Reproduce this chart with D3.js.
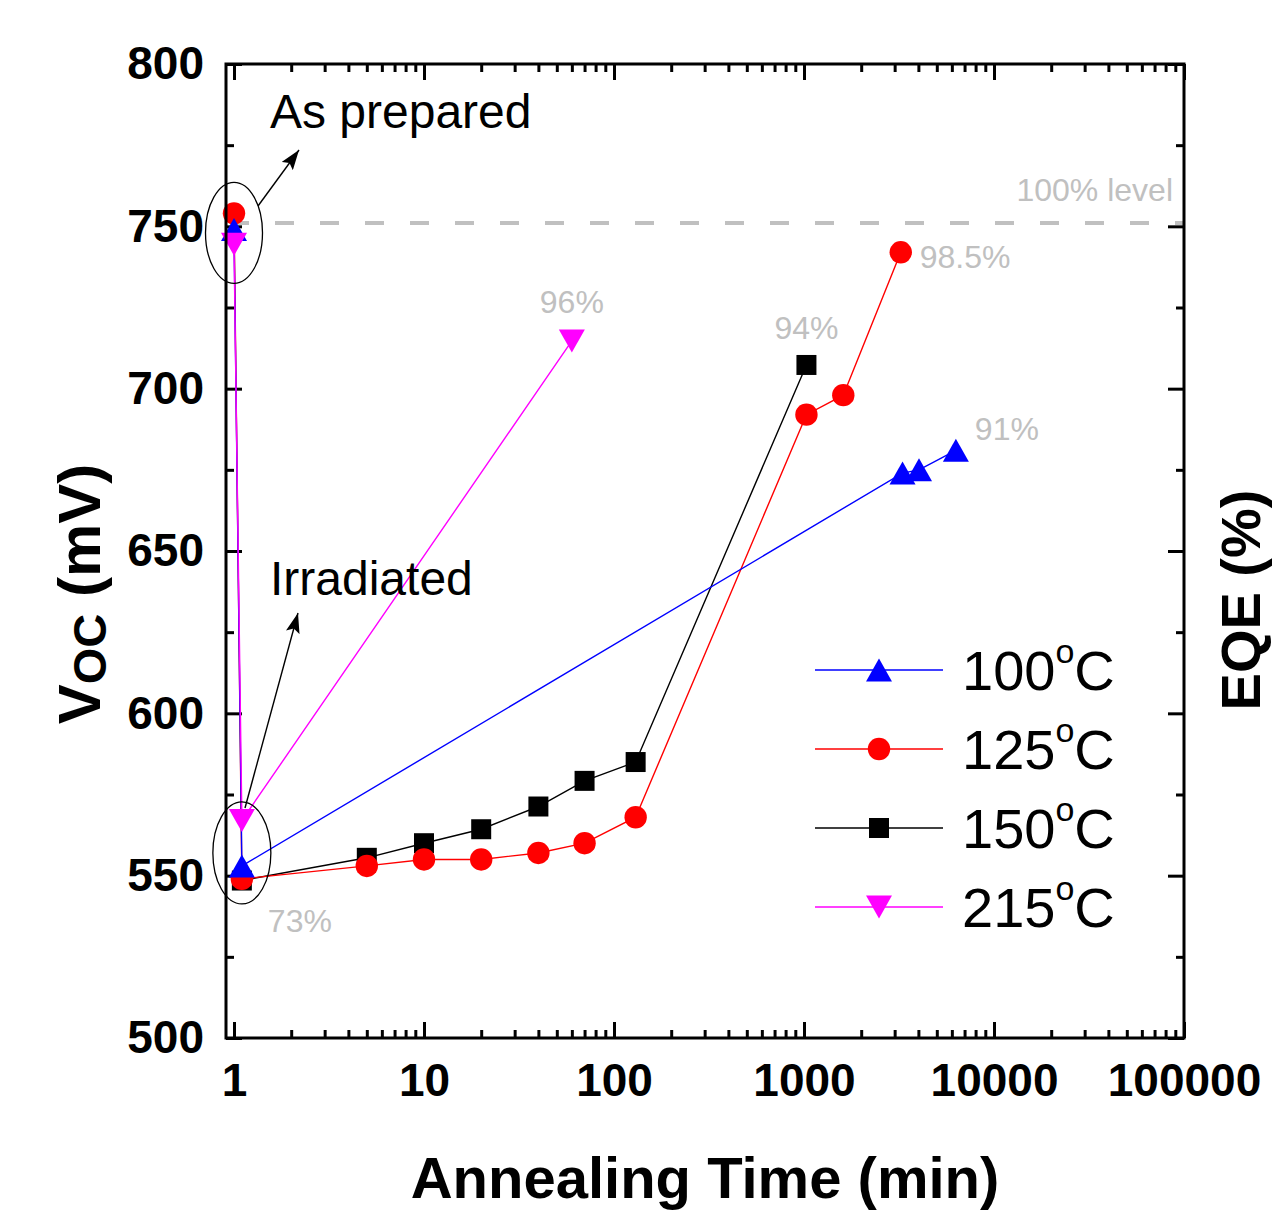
<!DOCTYPE html>
<html>
<head>
<meta charset="utf-8">
<script src="https://cdn.jsdelivr.net/npm/d3@7"></script>
<style>
  body { margin: 0; background: #fff; }
  svg { display: block; }
  text { font-family: "Liberation Sans", Arial, sans-serif; }
</style>
</head>
<body>
<svg id="chart" width="1273" height="1210"></svg>
<script>
// Open-circuit voltage recovery during annealing at four temperatures
const temps = [100, 125, 150, 215];

const time100 = [1, 1.1, 3300, 4030, 6300];
const voc100  = [749, 553, 674, 675, 681];

const time125 = [1, 1.1, 5, 10, 20, 40, 70, 130, 1030, 1610, 3230];
const voc125  = [754, 549, 553, 555, 555, 557, 560, 568, 692, 698, 742];

const time150 = [1.1, 5, 10, 20, 40, 70, 130, 1030];
const voc150  = [548.5, 555.5, 560, 564.3, 571.3, 579.2, 585, 707.3];

const time215 = [1, 1.1, 60];
const voc215  = [744.5, 567, 714.7];

// EQE notes, tied to data points
const eqeText = ["73%", "96%", "94%", "98.5%", "91%"];
const eqeTime = [1.1, 60, 1030, 3230, 6300];
const eqeVoc  = [549, 714.7, 707.3, 742, 681];

const levelVoc = 751;          // 100% level reference
const levelText = "100% level";

const xMajor = [1, 10, 100, 1000, 10000, 100000];
const yMajor = [500, 550, 600, 650, 700, 750, 800];
const yMinor = [525, 575, 625, 675, 725, 775];

const svg = d3.select("#chart");
const L = 226, R = 1184, T = 64, B = 1038;

const x = d3.scaleLog().domain([Math.pow(10, -8 / 190), 100000]).range([L, R]);
const y = d3.scaleLinear().domain([500, 800]).range([B, T]);

const xMinor = [];
for (let e = 0; e < 5; e++) for (let k = 2; k <= 9; k++) xMinor.push(k * Math.pow(10, e));

// ---- dashed 100% level ----
svg.append("line")
  .attr("x1", L + 4).attr("x2", R)
  .attr("y1", y(levelVoc)).attr("y2", y(levelVoc))
  .attr("stroke", "#c0c0c0").attr("stroke-width", 4)
  .attr("stroke-dasharray", "19,26");
svg.append("text")
  .attr("x", 1173).attr("y", y(levelVoc) - 22)
  .attr("text-anchor", "end").attr("font-size", 32).attr("fill", "#c0c0c0")
  .text(levelText);

// ---- axes ----
function styleAxis(g) {
  g.select(".domain").remove();
  g.selectAll(".tick line").attr("stroke", "#000").attr("stroke-width", 3);
  g.selectAll(".tick text").attr("fill", "#000").attr("font-weight", "bold")
    .attr("font-family", "'Liberation Sans', Arial, sans-serif");
}

svg.append("g").attr("transform", `translate(0,${B})`)
  .call(d3.axisBottom(x).tickValues(xMajor).tickSize(-16).tickPadding(25).tickFormat(d3.format("d")))
  .call(styleAxis)
  .call(g => g.selectAll(".tick text").attr("font-size", 46));
svg.append("g").attr("transform", `translate(0,${B})`)
  .call(d3.axisBottom(x).tickValues(xMinor).tickSize(-8).tickFormat(""))
  .call(styleAxis);
svg.append("g").attr("transform", `translate(0,${T})`)
  .call(d3.axisTop(x).tickValues(xMajor).tickSize(-16).tickFormat(""))
  .call(styleAxis);
svg.append("g").attr("transform", `translate(0,${T})`)
  .call(d3.axisTop(x).tickValues(xMinor).tickSize(-8).tickFormat(""))
  .call(styleAxis);

svg.append("g").attr("transform", `translate(${L},0)`)
  .call(d3.axisLeft(y).tickValues(yMajor).tickSize(-16).tickPadding(22).tickFormat(d3.format("d")))
  .call(styleAxis)
  .call(g => g.selectAll(".tick text").attr("font-size", 46));
svg.append("g").attr("transform", `translate(${L},0)`)
  .call(d3.axisLeft(y).tickValues(yMinor).tickSize(-8).tickFormat(""))
  .call(styleAxis);
svg.append("g").attr("transform", `translate(${R},0)`)
  .call(d3.axisRight(y).tickValues(yMajor).tickSize(-16).tickFormat(""))
  .call(styleAxis);
svg.append("g").attr("transform", `translate(${R},0)`)
  .call(d3.axisRight(y).tickValues(yMinor).tickSize(-8).tickFormat(""))
  .call(styleAxis);

// ---- axis titles ----
svg.append("text")
  .attr("x", 705).attr("y", 1198)
  .attr("text-anchor", "middle").attr("font-size", 58).attr("font-weight", "bold")
  .text("Annealing Time (min)");

const ylab = svg.append("text")
  .attr("transform", "translate(100,594) rotate(-90)")
  .attr("text-anchor", "middle").attr("font-size", 60).attr("font-weight", "bold");
ylab.append("tspan").text("V");
ylab.append("tspan").attr("font-size", 47).attr("dy", 6).text("OC");
ylab.append("tspan").attr("dy", -6).text(" (mV)");

svg.append("text")
  .attr("transform", "translate(1260,600) rotate(-90)")
  .attr("text-anchor", "middle").attr("font-size", 56).attr("font-weight", "bold")
  .text("EQE (%)");

// ---- series ----
const triUp = "M0,-11.5L13,11.5L-13,11.5Z";
const triDown = "M0,11.5L13,-11.5L-13,-11.5Z";
const circ = d3.symbol(d3.symbolCircle, Math.PI * 11.2 * 11.2)();
const sq = "M-10,-10H10V10H-10Z";

const series = [
  { temp: temps[2], t: time150, v: voc150, color: "#000000", shape: sq },
  { temp: temps[1], t: time125, v: voc125, color: "#ff0000", shape: circ },
  { temp: temps[0], t: time100, v: voc100, color: "#0000ff", shape: triUp },
  { temp: temps[3], t: time215, v: voc215, color: "#ff00ff", shape: triDown }
];

const line = d3.line().x(d => x(d[0])).y(d => y(d[1]));

series.forEach(s => {
  svg.append("path")
    .attr("d", line(d3.zip(s.t, s.v)))
    .attr("fill", "none").attr("stroke", s.color).attr("stroke-width", 1.4);
});
series.forEach(s => {
  svg.append("g").selectAll("path").data(d3.zip(s.t, s.v)).join("path")
    .attr("transform", d => `translate(${x(d[0])},${y(d[1])})`)
    .attr("d", s.shape).attr("fill", s.color);
});

// ---- EQE notes ----
const noteOffsets = [[58, 53, "middle"], [0, -28, "middle"], [0, -26, "middle"], [19, 16, "start"], [19, -10, "start"]];
eqeText.forEach((txt, i) => {
  const o = noteOffsets[i];
  svg.append("text")
    .attr("x", x(eqeTime[i]) + o[0]).attr("y", y(eqeVoc[i]) + o[1])
    .attr("text-anchor", o[2]).attr("font-size", 32).attr("fill", "#c0c0c0")
    .text(txt);
});

// ---- annotations: ellipses, arrows, captions ----
svg.append("defs").append("marker")
  .attr("id", "arrowHead").attr("viewBox", "0 0 20 14")
  .attr("refX", 20).attr("refY", 7)
  .attr("markerWidth", 20).attr("markerHeight", 14)
  .attr("markerUnits", "userSpaceOnUse").attr("orient", "auto")
  .append("path").attr("d", "M0,0L20,7L0,14L4,7Z").attr("fill", "#000");

const groups = [
  { label: "As prepared", t: 1, v: 748, rx: 28.5, ry: 50.5, from: [258, 206], to: [299, 150], tx: 270, ty: 128 },
  { label: "Irradiated", t: 1.1, v: 557, rx: 29, ry: 51, from: [245, 808], to: [298, 613], tx: 270, ty: 595 }
];
groups.forEach(gp => {
  svg.append("ellipse")
    .attr("cx", x(gp.t)).attr("cy", y(gp.v)).attr("rx", gp.rx).attr("ry", gp.ry)
    .attr("fill", "none").attr("stroke", "#000").attr("stroke-width", 1.3);
  svg.append("line")
    .attr("x1", gp.from[0]).attr("y1", gp.from[1]).attr("x2", gp.to[0]).attr("y2", gp.to[1])
    .attr("stroke", "#000").attr("stroke-width", 1.4).attr("marker-end", "url(#arrowHead)");
  svg.append("text").attr("x", gp.tx).attr("y", gp.ty)
    .attr("font-size", 48).attr("fill", "#000").text(gp.label);
});

// ---- frame ----
svg.append("rect").attr("x", L).attr("y", T).attr("width", R - L).attr("height", B - T)
  .attr("fill", "none").attr("stroke", "#000").attr("stroke-width", 3);

// ---- legend ----
const legendOrder = [2, 1, 0, 3].map(i => series[i]); // 100, 125, 150, 215
const legendRows = [670, 749, 828, 907];
legendOrder.forEach((s, i) => {
  const g = svg.append("g").attr("transform", `translate(0,${legendRows[i]})`);
  g.append("line").attr("x1", 815).attr("x2", 943).attr("y1", 0).attr("y2", 0)
    .attr("stroke", s.color).attr("stroke-width", 1.4);
  g.append("path").attr("transform", "translate(879,0)").attr("d", s.shape).attr("fill", s.color);
  const t = g.append("text").attr("x", 962).attr("y", 20).attr("font-size", 56).attr("fill", "#000");
  t.append("tspan").text(String(s.temp));
  t.append("tspan").attr("font-size", 34).attr("dy", -27).text("o");
  t.append("tspan").attr("dy", 27).text("C");
});
</script>
</body>
</html>
